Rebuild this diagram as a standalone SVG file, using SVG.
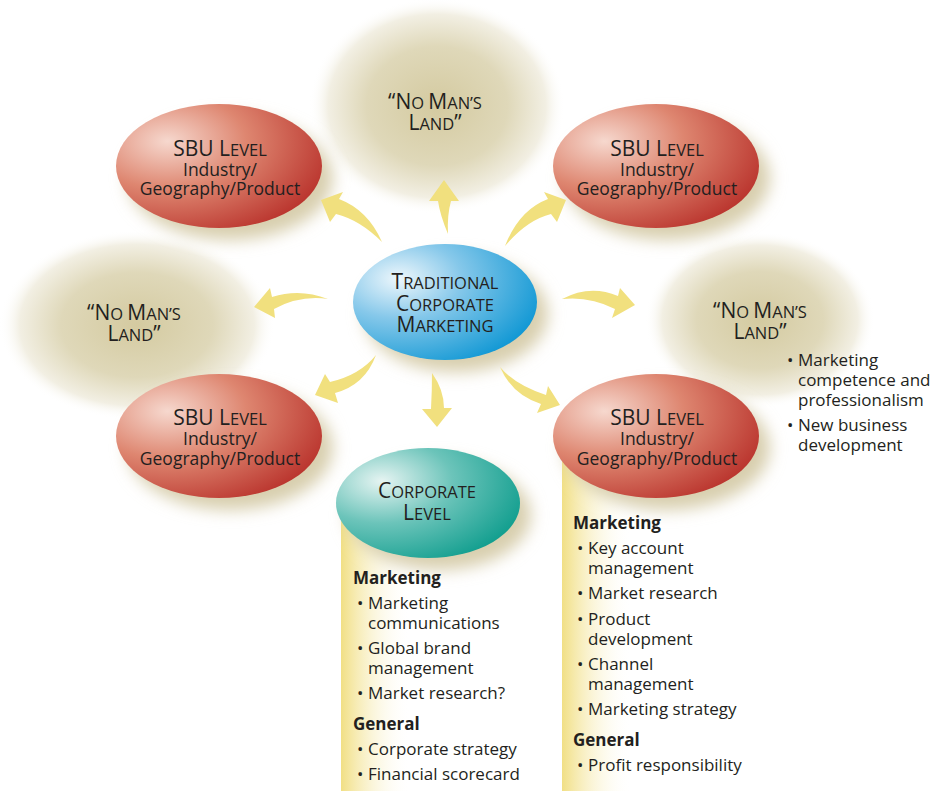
<svg xmlns="http://www.w3.org/2000/svg" width="930" height="791" viewBox="0 0 930 791">
<defs>
  <radialGradient id="red" cx="0.25" cy="0.3" r="0.85">
    <stop offset="0" stop-color="#f6d8ce"/>
    <stop offset="0.45" stop-color="#de8670"/>
    <stop offset="1" stop-color="#b8302a"/>
  </radialGradient>
  <radialGradient id="blue" cx="0.25" cy="0.3" r="0.85">
    <stop offset="0" stop-color="#eef7fc"/>
    <stop offset="0.4" stop-color="#86c8ea"/>
    <stop offset="1" stop-color="#0a95d3"/>
  </radialGradient>
  <radialGradient id="teal" cx="0.25" cy="0.3" r="0.85">
    <stop offset="0" stop-color="#e6f4f2"/>
    <stop offset="0.45" stop-color="#6cc4ba"/>
    <stop offset="1" stop-color="#0c9c8c"/>
  </radialGradient>
  <radialGradient id="glow" cx="0.5" cy="0.5" r="0.5">
    <stop offset="0" stop-color="#d4caa0"/>
    <stop offset="0.55" stop-color="#dfd8b9"/>
    <stop offset="0.85" stop-color="#f2efe3"/>
    <stop offset="1" stop-color="#ffffff" stop-opacity="0"/>
  </radialGradient>
  <linearGradient id="strip" x1="0" y1="0" x2="1" y2="0">
    <stop offset="0" stop-color="#f1df84"/>
    <stop offset="1" stop-color="#ffffff" stop-opacity="0"/>
  </linearGradient>
  <filter id="blur" x="-30%" y="-30%" width="160%" height="160%">
    <feGaussianBlur stdDeviation="8"/>
  </filter>
  <style>
    .t{font-family:"Open Sans","Noto Sans","Liberation Sans",sans-serif;fill:#231f20;}
    .title{font-size:16.5px;text-anchor:middle;}
    .c{font-size:21px;}
    .sub{font-size:17.5px;text-anchor:middle;}
    .body{font-size:17px;}
    .head{font-size:17px;font-weight:bold;}
    .arrow{fill:#f1e07e;}
    .shadow{fill:#d8cfae;filter:url(#blur);}
  </style>
</defs>
<rect width="930" height="791" fill="#ffffff"/>

<g id="strips">
  <rect x="341" y="520" width="70" height="271" fill="url(#strip)"/>
  <rect x="562" y="450" width="70" height="341" fill="url(#strip)"/>
</g>

<g id="nml-top">
  <ellipse cx="437" cy="106" rx="128" ry="108" fill="url(#glow)"/>
  <text class="t title"><tspan x="435" y="109"><tspan class="c">“N</tspan>O <tspan class="c">M</tspan>AN’S</tspan><tspan x="435" y="130"><tspan class="c">L</tspan>AND<tspan class="c">”</tspan></tspan></text>
</g>
<g id="nml-left">
  <ellipse cx="137" cy="325" rx="138" ry="95" fill="url(#glow)"/>
  <text class="t title"><tspan x="134" y="320"><tspan class="c">“N</tspan>O <tspan class="c">M</tspan>AN’S</tspan><tspan x="134" y="341"><tspan class="c">L</tspan>AND<tspan class="c">”</tspan></tspan></text>
</g>
<g id="nml-right">
  <ellipse cx="760" cy="320" rx="115" ry="88" fill="url(#glow)"/>
  <text class="t title"><tspan x="760" y="318"><tspan class="c">“N</tspan>O <tspan class="c">M</tspan>AN’S</tspan><tspan x="760" y="339"><tspan class="c">L</tspan>AND<tspan class="c">”</tspan></tspan></text>
  <text class="t body" x="787" y="366">•<tspan x="798">Marketing</tspan></text>
  <text class="t body" x="798" y="386">competence and</text>
  <text class="t body" x="798" y="406">professionalism</text>
  <text class="t body" x="787" y="431">•<tspan x="798">New business</tspan></text>
  <text class="t body" x="798" y="451">development</text>
</g>

<g id="sbu-tl">
  <ellipse class="shadow" cx="230" cy="178" rx="103" ry="62"/>
  <ellipse cx="219" cy="166" rx="103" ry="62" fill="url(#red)"/>
  <text class="t title" x="220" y="156"><tspan class="c">SBU L</tspan>EVEL</text>
  <text class="t sub"><tspan x="220" y="176">Industry/</tspan><tspan x="220" y="195">Geography/Product</tspan></text>
</g>
<g id="sbu-tr">
  <ellipse class="shadow" cx="667" cy="178" rx="103" ry="62"/>
  <ellipse cx="656" cy="166" rx="103" ry="62" fill="url(#red)"/>
  <text class="t title" x="657" y="156"><tspan class="c">SBU L</tspan>EVEL</text>
  <text class="t sub"><tspan x="657" y="176">Industry/</tspan><tspan x="657" y="195">Geography/Product</tspan></text>
</g>
<g id="sbu-bl">
  <ellipse class="shadow" cx="230" cy="448" rx="103" ry="62"/>
  <ellipse cx="219" cy="436" rx="103" ry="62" fill="url(#red)"/>
  <text class="t title" x="220" y="425"><tspan class="c">SBU L</tspan>EVEL</text>
  <text class="t sub"><tspan x="220" y="445">Industry/</tspan><tspan x="220" y="465">Geography/Product</tspan></text>
</g>
<g id="sbu-br">
  <ellipse class="shadow" cx="667" cy="448" rx="103" ry="62"/>
  <ellipse cx="656" cy="436" rx="103" ry="62" fill="url(#red)"/>
  <text class="t title" x="657" y="425"><tspan class="c">SBU L</tspan>EVEL</text>
  <text class="t sub"><tspan x="657" y="445">Industry/</tspan><tspan x="657" y="465">Geography/Product</tspan></text>
</g>

<g id="traditional">
  <ellipse class="shadow" cx="456" cy="314" rx="92" ry="58"/>
  <ellipse cx="445" cy="302" rx="92" ry="58" fill="url(#blue)"/>
  <text class="t title"><tspan x="445" y="289"><tspan class="c">T</tspan>RADITIONAL</tspan><tspan x="445" y="311"><tspan class="c">C</tspan>ORPORATE</tspan><tspan x="445" y="332"><tspan class="c">M</tspan>ARKETING</tspan></text>
</g>

<g id="corporate">
  <ellipse class="shadow" cx="439" cy="515" rx="92" ry="55"/>
  <ellipse cx="428" cy="503" rx="92" ry="55" fill="url(#teal)"/>
  <text class="t title"><tspan x="427" y="498"><tspan class="c">C</tspan>ORPORATE</tspan><tspan x="427" y="520"><tspan class="c">L</tspan>EVEL</tspan></text>
  <text class="t head" x="353" y="584">Marketing</text>
  <text class="t body" x="357" y="609">•<tspan x="368">Marketing</tspan></text>
  <text class="t body" x="368" y="629">communications</text>
  <text class="t body" x="357" y="654">•<tspan x="368">Global brand</tspan></text>
  <text class="t body" x="368" y="674">management</text>
  <text class="t body" x="357" y="699">•<tspan x="368">Market research?</tspan></text>
  <text class="t head" x="353" y="730">General</text>
  <text class="t body" x="357" y="755">•<tspan x="368">Corporate strategy</tspan></text>
  <text class="t body" x="357" y="780">•<tspan x="368">Financial scorecard</tspan></text>
</g>

<g id="sbu-br-list">
  <text class="t head" x="573" y="529">Marketing</text>
  <text class="t body" x="577" y="554">•<tspan x="588">Key account</tspan></text>
  <text class="t body" x="588" y="574">management</text>
  <text class="t body" x="577" y="599">•<tspan x="588">Market research</tspan></text>
  <text class="t body" x="577" y="625">•<tspan x="588">Product</tspan></text>
  <text class="t body" x="588" y="645">development</text>
  <text class="t body" x="577" y="670">•<tspan x="588">Channel</tspan></text>
  <text class="t body" x="588" y="690">management</text>
  <text class="t body" x="577" y="715">•<tspan x="588">Marketing strategy</tspan></text>
  <text class="t head" x="573" y="746">General</text>
  <text class="t body" x="577" y="771">•<tspan x="588">Profit responsibility</tspan></text>
</g>

<g id="connectors">
  <path class="arrow" d="M321,200 L343,192 L339,199 Q368,210 382,242 Q360,220 336,214 L330,222 Z"/>
  <path class="arrow" d="M444,180 L459,201 L451,201 Q447,215 448,234 Q440,215 438,201 L429,201 Z"/>
  <path class="arrow" d="M566,200 L544,192 L548,199 Q519,210 505,246 Q527,220 551,214 L557,222 Z"/>
  <path class="arrow" d="M254,307 L270,288 L272,297 Q300,288 328,299 Q300,295 274,309 L275,318 Z"/>
  <path class="arrow" d="M635,305 L612,318 L615,309 Q590,296 562,299 Q590,284 618,296 L620,288 Z"/>
  <path class="arrow" d="M315,395 L325,374 L330,382 Q360,375 376,355 Q365,385 335,393 L338,403 Z"/>
  <path class="arrow" d="M437,427 L422,409 L431,409 Q432,390 432,373 Q444,390 444,408 L452,408 Z"/>
  <path class="arrow" d="M560,405 L548,386 L546,395 Q515,385 500,367 Q512,395 541,404 L537,413 Z"/>
</g>
</svg>
